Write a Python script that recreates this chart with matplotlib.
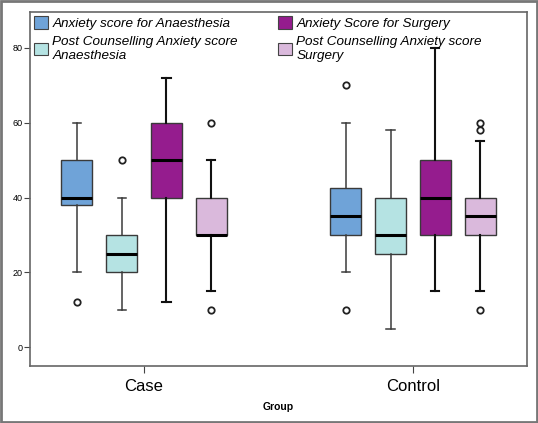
import matplotlib
matplotlib.use('Agg')
from matplotlib import pyplot as plt
from matplotlib.patches import Patch

plt.rcParams['font.family'] = ['Liberation Sans', 'DejaVu Sans']

groups = ['Case', 'Control']
series = ['Anxiety score for Anaesthesia',
          'Post Counselling Anxiety score\nAnaesthesia',
          'Anxiety Score for Surgery',
          'Post Counselling Anxiety score\nSurgery']
colors = ['#6fa3d8', '#b5e3e3', '#951c8e', '#dab9dc']

# per series: [Case, Control]
whislo = [[20, 20], [10, 5], [12, 15], [15, 15]]
q1 = [[38, 30], [20, 25], [40, 30], [30, 30]]
med = [[40, 35], [25, 30], [50, 40], [30, 35]]
q3 = [[50, 42.5], [30, 40], [60, 50], [40, 40]]
whishi = [[60, 60], [40, 58], [72, 80], [50, 55]]
fliers = [[[12], [10, 70]],
          [[50], []],
          [[], []],
          [[60, 10], [60, 58, 10]]]

fig = plt.figure(figsize=(5.38, 4.23), dpi=100)
ax = fig.add_axes([30/538, 1 - 366/423, 497/538, 354/423])

step = 0.167
width = 0.115
for i in range(len(series)):
    stats = []
    pos = []
    for g in range(len(groups)):
        stats.append(dict(whislo=whislo[i][g], q1=q1[i][g], med=med[i][g],
                          q3=q3[i][g], whishi=whishi[i][g], fliers=fliers[i][g]))
        pos.append(g + (i - 1.5) * step)
    heavy = i >= 2
    lc = '#111111' if heavy else '#3a3a3a'
    lw = 1.5 if heavy else 1.1
    ax.bxp(stats, positions=pos, widths=width, patch_artist=True,
           boxprops=dict(facecolor=colors[i], edgecolor='#3a3a3a', linewidth=1.0),
           medianprops=dict(color='black', linewidth=2.2),
           whiskerprops=dict(color=lc, linewidth=lw),
           capprops=dict(color=lc, linewidth=lw),
           capwidths=0.03,
           flierprops=dict(marker='o', markersize=4.6, markerfacecolor='white',
                           markeredgecolor='#222222', markeredgewidth=1.3))

ax.set_xlim(-0.424, 1.424)
ax.set_ylim(-5, 89.6)
ax.set_xticks([0, 1])
ax.set_xticklabels(groups, fontsize=12)
ax.set_yticks([0, 20, 40, 60, 80])
ax.tick_params(axis='y', labelsize=6.5, length=4, color='#444444', pad=1)
ax.tick_params(axis='x', length=5, color='#444444', pad=4)
ax.set_xlabel('Group', fontsize=7.5, fontweight='bold', labelpad=6)
for s in ax.spines.values():
    s.set_color('#666666')
    s.set_linewidth(1.2)

handles = [Patch(facecolor=c, edgecolor='#444444', linewidth=0.8) for c in colors]
leg = ax.legend(handles, series, ncol=2, loc='upper left',
                bbox_to_anchor=(0.0, 1.0),
                frameon=False, prop=dict(style='italic', size=9.7),
                handlelength=1.05, handleheight=1.05, handletextpad=0.3,
                columnspacing=3.0, labelspacing=0.45, borderaxespad=0.0,
                borderpad=0.3)

fig.patches.append(plt.Rectangle((0.002, 0.002), 0.996, 0.996, transform=fig.transFigure,
                                 fill=False, edgecolor='#777777', linewidth=2))

fig.savefig('out.png', dpi=100)
